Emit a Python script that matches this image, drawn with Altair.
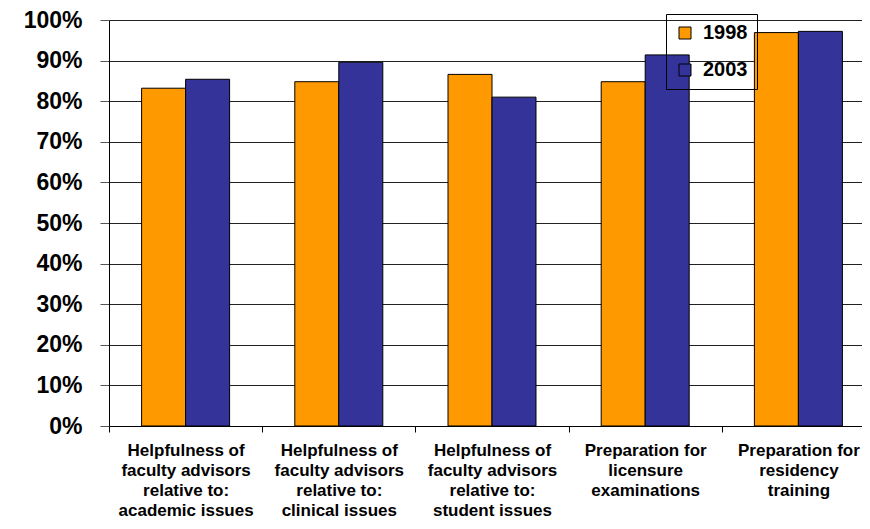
import altair as alt
import pandas as pd

categories = [
    "Helpfulness of|faculty advisors|relative to:|academic issues",
    "Helpfulness of|faculty advisors|relative to:|clinical issues",
    "Helpfulness of|faculty advisors|relative to:|student issues",
    "Preparation for|licensure|examinations",
    "Preparation for|residency|training",
]
years = ["1998", "2003"]
values_1998 = [83.2, 84.8, 86.6, 84.8, 96.9]
values_2003 = [85.4, 89.6, 81.0, 91.4, 97.2]
y_ticks = [0, 10, 20, 30, 40, 50, 60, 70, 80, 90, 100]
colors = ["#FF9900", "#333399"]

rows = []
for c, a, b in zip(categories, values_1998, values_2003):
    rows.append({"category": c, "year": "1998", "value": a})
    rows.append({"category": c, "year": "2003", "value": b})
df = pd.DataFrame(rows)

FONT = "Liberation Sans"

chart = alt.Chart(df).mark_bar(stroke="black", strokeWidth=1).encode(
    x=alt.X(
        "category:N",
        sort=categories,
        scale=alt.Scale(range=[0, 766], paddingInner=0, paddingOuter=0),
        axis=alt.Axis(
            title=None,
            labelExpr="split(datum.label, '|')",
            labelAngle=0,
            labelFont=FONT,
            labelFontSize=17,
            labelFontWeight="bold",
            labelColor="black",
            labelLineHeight=20,
            labelBaseline="top",
            labelPadding=10,
            labelLimit=0,
            tickBand="extent",
            tickSize=6,
            tickColor="black",
            domainColor="black",
            grid=False,
        ),
    ),
    xOffset=alt.XOffset("year:N", sort=years,
                        scale=alt.Scale(paddingOuter=0.741, paddingInner=0)),
    y=alt.Y(
        "value:Q",
        scale=alt.Scale(domain=[0, 100]),
        axis=alt.Axis(
            title=None,
            values=y_ticks,
            labelExpr="datum.value + '%'",
            labelFont=FONT,
            labelFontSize=23,
            labelFontWeight="bold",
            labelColor="black",
            labelPadding=18,
            tickSize=9,
            tickColor="#555555",
            domainColor="black",
            grid=True,
            gridColor="#222222",
            gridWidth=1,
        ),
    ),
    color=alt.Color(
        "year:N",
        sort=years,
        scale=alt.Scale(domain=years, range=colors),
        legend=alt.Legend(
            title=None,
            orient="none",
            legendX=557,
            legendY=-6,
            strokeColor="black",
            padding=9,
            symbolType="square",
            symbolSize=144,
            symbolStrokeColor="black",
            symbolStrokeWidth=1,
            symbolOpacity=1,
            labelFont=FONT,
            labelFontSize=20,
            labelFontWeight="bold",
            labelColor="black",
            labelOffset=8,
            rowPadding=17,
        ),
    ),
).properties(
    width=753,
    height=406,
    autosize=alt.AutoSizeParams(type="none"),
    padding={"left": 101, "top": 12, "right": 0, "bottom": 95},
).configure_view(strokeWidth=0)

chart.save("out.html", embed_options={"renderer": "svg", "actions": False})
